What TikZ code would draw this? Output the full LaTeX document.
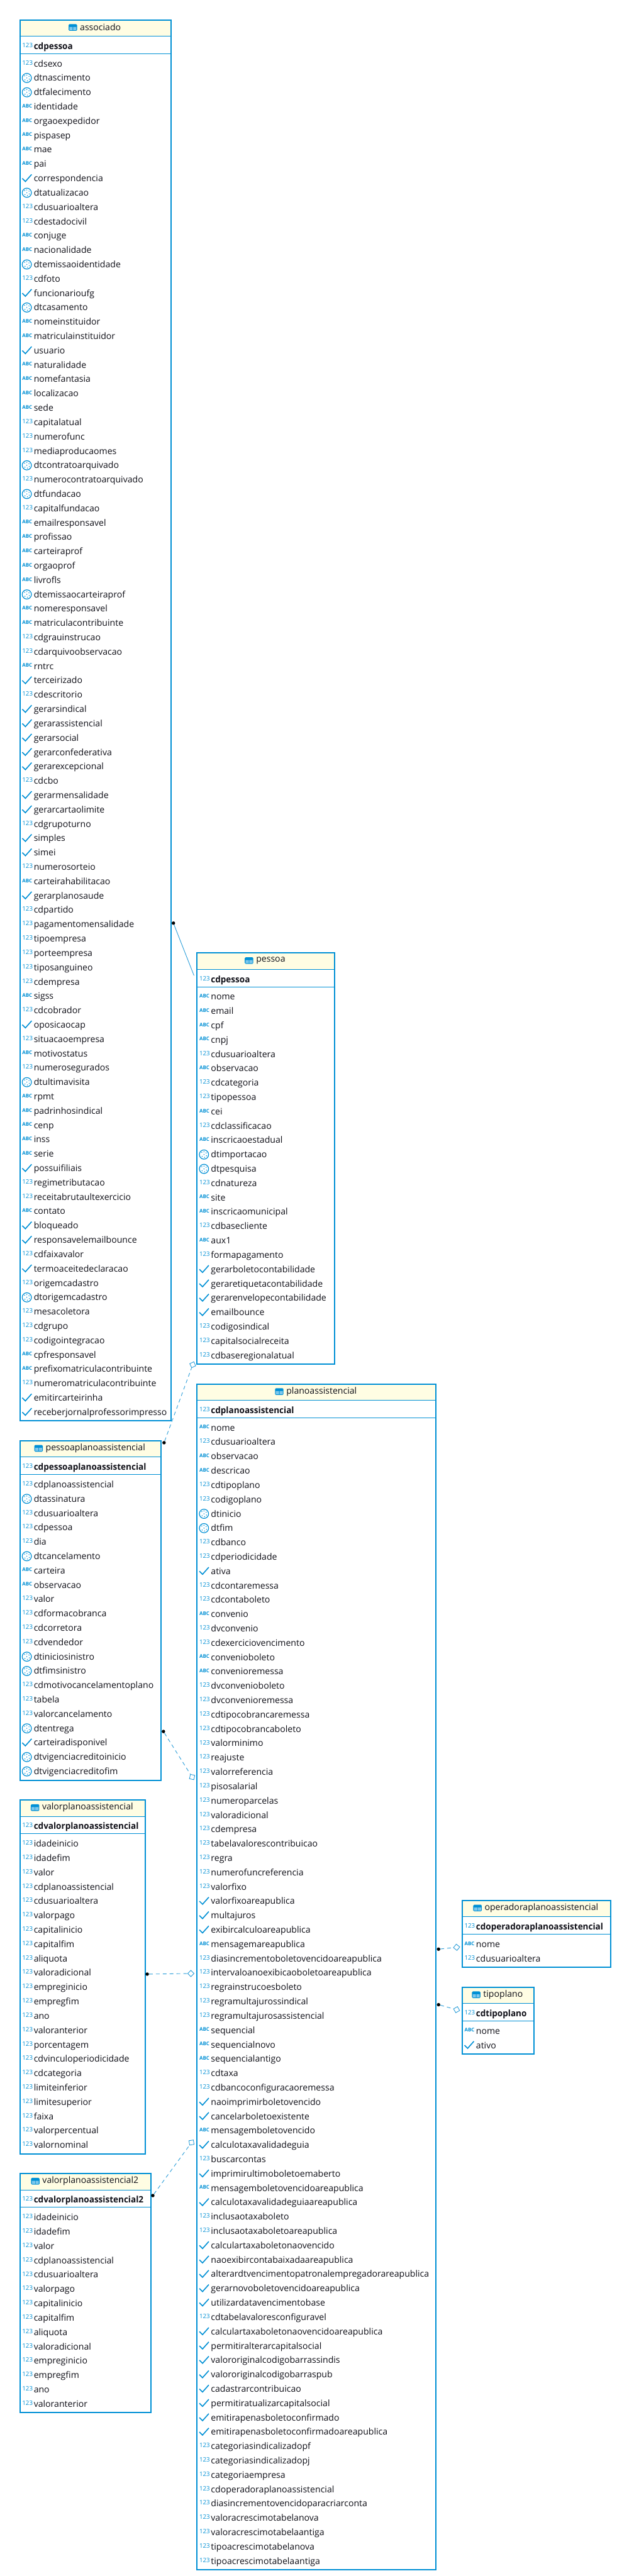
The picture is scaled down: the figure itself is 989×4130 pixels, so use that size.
\documentclass[tikz,border=0pt]{standalone}
\usepackage{fontspec}
\setmainfont{Open Sans}
\usepackage{xcolor}
\usepackage{tikz}
\usetikzlibrary{positioning, shapes.geometric}

\definecolor{erblue}{HTML}{0090D5}
\definecolor{erlink}{HTML}{2A9DD8}
\definecolor{ercell}{HTML}{7CC7EC}
\definecolor{ertitle}{HTML}{FFFDE3}
\definecolor{erink}{HTML}{101018}

\tikzset{
    tablebox/.style={draw=erblue,line width=2pt,anchor=north west,inner sep=0pt},
    rule/.style={draw=erblue,line width=1pt},
    titlelabel/.style={inner sep=0pt,text=erink,font=\fontsize{14.2}{16}\selectfont},
    fieldlabel/.style={anchor=base west,inner sep=0pt,text=erink,font=\fontsize{14.2}{16}\selectfont},
    keylabel/.style={fieldlabel,font=\fontsize{14.2}{16}\selectfont\bfseries\addfontfeature{FakeStretch=0.96}},
    numlabel/.style={anchor=base west,inner sep=0pt,text=erblue,font=\fontsize{9.8}{10}\selectfont},
    abclabel/.style={anchor=base west,inner sep=0pt,text=erblue,font=\fontsize{8}{8}\selectfont\bfseries},
    refdot/.style={circle,fill=black,inner sep=0pt,minimum size=5.5pt},
    refdiamond/.style={diamond,draw=erlink,fill=white,line width=.9pt,inner sep=0pt,minimum size=10.5pt},
    reflink/.style={draw=erlink,line width=.9pt},
    softlink/.style={reflink,dash pattern=on 6pt off 5pt},
    pics/num/.style={code={\node[numlabel] (-txt) at (4.5,2) {123};}},
    pics/abc/.style={code={\node[abclabel] (-txt) at (4.5,1.7) {ABC};}},
    pics/chk/.style={code={\draw[erblue,line width=1.6pt] (4.7,0) -- (9.7,5) -- (19.7,-6.3);}},
    pics/dat/.style={code={
        \draw[erblue,line width=1.2pt] (12,0) circle (7.4);
        \foreach \dotx/\doty in {8.5/-3.5,12/0,15.5/-2.5,9/3,13/4.5,12/-4.5,16/2}
            \fill[erblue] (\dotx,\doty) circle (.85);
    }},
    pics/tabicon/.style={code={
        \fill[erblue,rounded corners=1.5pt] (0,0) rectangle (13.6,10.7);
        \fill[ercell] (1.2,4.6) rectangle (6.4,9.6) (7.3,4.6) rectangle (12.4,9.6);
    }},
}

\newcommand{\ertable}[7]{%
    \pgfmathsetmacro{\tabright}{#2+#4}
    \pgfmathsetmacro{\tabbottom}{#3+84+(#5-1)*23}
    \pgfmathsetmacro{\tabheight}{\tabbottom-#3}
    \fill[white] (#2,#3) rectangle (\tabright,\tabbottom);
    \fill[ertitle] (#2,#3) rectangle (\tabright,#3+27);
    \draw[rule] (#2,#3+27) -- (\tabright,#3+27);
    \draw[rule] (#2,#3+55) -- (\tabright,#3+55);
    \node[titlelabel] (#1-title) at (#2+#4/2+9,#3+13) {#1};
    \pic (#1-icon) at ([xshift=-18pt,yshift=5.3pt]#1-title.west) {tabicon};
    \pic (#1-keyicon) at (#2,#3+43) {num};
    \node[keylabel] (#1-key) at (#2+23,#3+48) {#6};
    \foreach \kind/\field [count=\i] in {#7} {
        \pgfmathsetmacro{\rowy}{#3+71+(\i-1)*23}
        \pic (#1-mark-\i) at (#2,\rowy) {\kind};
        \node[fieldlabel] (#1-\i) at (#2+23,\rowy+5) {\field};
    }
    \node[tablebox,minimum width=#4pt,minimum height=\tabheight pt] (#1) at (#2,#3) {};
}

\begin{document}
\begin{tikzpicture}[x=1pt,y=-1pt]
    \useasboundingbox (0,0) rectangle (989,4130);

    \ertable{associado}{31}{31}{242}{95}{cdpessoa}{
        num/cdsexo,dat/dtnascimento,dat/dtfalecimento,abc/identidade,abc/orgaoexpedidor,
        abc/pispasep,abc/mae,abc/pai,chk/correspondencia,dat/dtatualizacao,
        num/cdusuarioaltera,num/cdestadocivil,abc/conjuge,abc/nacionalidade,dat/dtemissaoidentidade,
        num/cdfoto,chk/funcionarioufg,dat/dtcasamento,abc/nomeinstituidor,abc/matriculainstituidor,
        chk/usuario,abc/naturalidade,abc/nomefantasia,abc/localizacao,abc/sede,
        num/capitalatual,num/numerofunc,num/mediaproducaomes,dat/dtcontratoarquivado,num/numerocontratoarquivado,
        dat/dtfundacao,num/capitalfundacao,abc/emailresponsavel,abc/profissao,abc/carteiraprof,
        abc/orgaoprof,abc/livrofls,dat/dtemissaocarteiraprof,abc/nomeresponsavel,abc/matriculacontribuinte,
        num/cdgrauinstrucao,num/cdarquivoobservacao,abc/rntrc,chk/terceirizado,num/cdescritorio,
        chk/gerarsindical,chk/gerarassistencial,chk/gerarsocial,chk/gerarconfederativa,chk/gerarexcepcional,
        num/cdcbo,chk/gerarmensalidade,chk/gerarcartaolimite,num/cdgrupoturno,chk/simples,
        chk/simei,num/numerosorteio,abc/carteirahabilitacao,chk/gerarplanosaude,num/cdpartido,
        num/pagamentomensalidade,num/tipoempresa,num/porteempresa,num/tiposanguineo,num/cdempresa,
        abc/sigss,num/cdcobrador,chk/oposicaocap,num/situacaoempresa,abc/motivostatus,
        num/numerosegurados,dat/dtultimavisita,abc/rpmt,abc/padrinhosindical,abc/cenp,
        abc/inss,abc/serie,chk/possuifiliais,num/regimetributacao,num/receitabrutaultexercicio,
        abc/contato,chk/bloqueado,chk/responsavelemailbounce,num/cdfaixavalor,chk/termoaceitedeclaracao,
        num/origemcadastro,dat/dtorigemcadastro,num/mesacoletora,num/cdgrupo,num/codigointegracao,
        abc/cpfresponsavel,abc/prefixomatriculacontribuinte,num/numeromatriculacontribuinte,chk/emitircarteirinha,chk/receberjornalprofessorimpresso}

    \ertable{pessoa}{315}{1527}{220}{26}{cdpessoa}{
        abc/nome,abc/email,abc/cpf,abc/cnpj,num/cdusuarioaltera,
        abc/observacao,num/cdcategoria,num/tipopessoa,abc/cei,num/cdclassificacao,
        abc/inscricaoestadual,dat/dtimportacao,dat/dtpesquisa,num/cdnatureza,abc/site,
        abc/inscricaomunicipal,num/cdbasecliente,abc/aux1,num/formapagamento,chk/gerarboletocontabilidade,
        chk/geraretiquetacontabilidade,chk/gerarenvelopecontabilidade,chk/emailbounce,num/codigosindical,num/capitalsocialreceita,
        num/cdbaseregionalatual}

    \ertable{planoassistencial}{315}{2218}{383}{80}{cdplanoassistencial}{
        abc/nome,num/cdusuarioaltera,abc/observacao,abc/descricao,num/cdtipoplano,
        num/codigoplano,dat/dtinicio,dat/dtfim,num/cdbanco,num/cdperiodicidade,
        chk/ativa,num/cdcontaremessa,num/cdcontaboleto,abc/convenio,num/dvconvenio,
        num/cdexerciciovencimento,abc/convenioboleto,abc/convenioremessa,num/dvconvenioboleto,num/dvconvenioremessa,
        num/cdtipocobrancaremessa,num/cdtipocobrancaboleto,num/valorminimo,num/reajuste,num/valorreferencia,
        num/pisosalarial,num/numeroparcelas,num/valoradicional,num/cdempresa,num/tabelavalorescontribuicao,
        num/regra,num/numerofuncreferencia,num/valorfixo,chk/valorfixoareapublica,chk/multajuros,
        chk/exibircalculoareapublica,abc/mensagemareapublica,num/diasincrementoboletovencidoareapublica,num/intervaloanoexibicaoboletoareapublica,num/regrainstrucoesboleto,
        num/regramultajurossindical,num/regramultajurosassistencial,abc/sequencial,abc/sequencialnovo,abc/sequencialantigo,
        num/cdtaxa,num/cdbancoconfiguracaoremessa,chk/naoimprimirboletovencido,chk/cancelarboletoexistente,abc/mensagemboletovencido,
        chk/calculotaxavalidadeguia,num/buscarcontas,chk/imprimirultimoboletoemaberto,abc/mensagemboletovencidoareapublica,chk/calculotaxavalidadeguiaareapublica,
        num/inclusaotaxaboleto,num/inclusaotaxaboletoareapublica,chk/calculartaxaboletonaovencido,chk/naoexibircontabaixadaareapublica,chk/alterardtvencimentopatronalempregadorareapublica,
        chk/gerarnovoboletovencidoareapublica,chk/utilizardatavencimentobase,num/cdtabelavaloresconfiguravel,chk/calculartaxaboletonaovencidoareapublica,chk/permitiralterarcapitalsocial,
        chk/valororiginalcodigobarrassindis,chk/valororiginalcodigobarraspub,chk/cadastrarcontribuicao,chk/permitiratualizarcapitalsocial,chk/emitirapenasboletoconfirmado,
        chk/emitirapenasboletoconfirmadoareapublica,num/categoriasindicalizadopf,num/categoriasindicalizadopj,num/categoriaempresa,num/cdoperadoraplanoassistencial,
        num/diasincrementovencidoparacriarconta,num/valoracrescimotabelanova,num/valoracrescimotabelaantiga,num/tipoacrescimotabelanova,num/tipoacrescimotabelaantiga}

    \ertable{pessoaplanoassistencial}{31}{2309}{226}{21}{cdpessoaplanoassistencial}{
        num/cdplanoassistencial,dat/dtassinatura,num/cdusuarioaltera,num/cdpessoa,num/dia,
        dat/dtcancelamento,abc/carteira,abc/observacao,num/valor,num/cdformacobranca,
        num/cdcorretora,num/cdvendedor,dat/dtiniciosinistro,dat/dtfimsinistro,num/cdmotivocancelamentoplano,
        num/tabela,num/valorcancelamento,dat/dtentrega,chk/carteiradisponivel,dat/dtvigenciacreditoinicio,
        dat/dtvigenciacreditofim}

    \ertable{valorplanoassistencial}{31}{2885}{201}{22}{cdvalorplanoassistencial}{
        num/idadeinicio,num/idadefim,num/valor,num/cdplanoassistencial,num/cdusuarioaltera,
        num/valorpago,num/capitalinicio,num/capitalfim,num/aliquota,num/valoradicional,
        num/empreginicio,num/empregfim,num/ano,num/valoranterior,num/porcentagem,
        num/cdvinculoperiodicidade,num/cdcategoria,num/limiteinferior,num/limitesuperior,num/faixa,
        num/valorpercentual,num/valornominal}

    \ertable{valorplanoassistencial2}{31}{3484}{210}{14}{cdvalorplanoassistencial2}{
        num/idadeinicio,num/idadefim,num/valor,num/cdplanoassistencial,num/cdusuarioaltera,
        num/valorpago,num/capitalinicio,num/capitalfim,num/aliquota,num/valoradicional,
        num/empreginicio,num/empregfim,num/ano,num/valoranterior}

    \ertable{operadoraplanoassistencial}{740}{3046}{238}{2}{cdoperadoraplanoassistencial}{
        abc/nome,num/cdusuarioaltera}

    \ertable{tipoplano}{740}{3185}{115}{2}{cdtipoplano}{
        abc/nome,chk/ativo}

    \node[refdot] (dotassociado) at (278,1480) {};
    \coordinate (endpessoa) at (311,1564);
    \node[refdot] (dotpessoaplano) at (263,2313) {};
    \node[refdiamond,rotate=70] (diapessoa) at (309,2188) {};
    \node[refdot] (dotplanopessoa) at (262,2776) {};
    \node[refdiamond,rotate=-58] (diaplanopessoa) at (308,2849) {};
    \node[refdot] (dotvalor) at (236,3165) {};
    \node[refdiamond] (diavalor) at (306,3164) {};
    \node[refdot] (dotvalordois) at (245,3520) {};
    \node[refdiamond,rotate=54] (diavalordois) at (307,3435) {};
    \node[refdot] (dotoperadora) at (703,3125) {};
    \node[refdiamond,rotate=6] (diaoperadora) at (732,3122) {};
    \node[refdot] (dottipo) at (703,3214) {};
    \node[refdiamond,rotate=-15] (diatipo) at (732,3222) {};

    \draw[reflink] (dotassociado) -- (endpessoa);
    \draw[softlink] (dotpessoaplano) -- (diapessoa);
    \draw[softlink] (dotplanopessoa) -- (diaplanopessoa);
    \draw[softlink] (dotvalor) -- (diavalor);
    \draw[softlink] (dotvalordois) -- (diavalordois);
    \draw[softlink] (dotoperadora) -- (diaoperadora);
    \draw[softlink] (dottipo) -- (diatipo);
\end{tikzpicture}
\end{document}
